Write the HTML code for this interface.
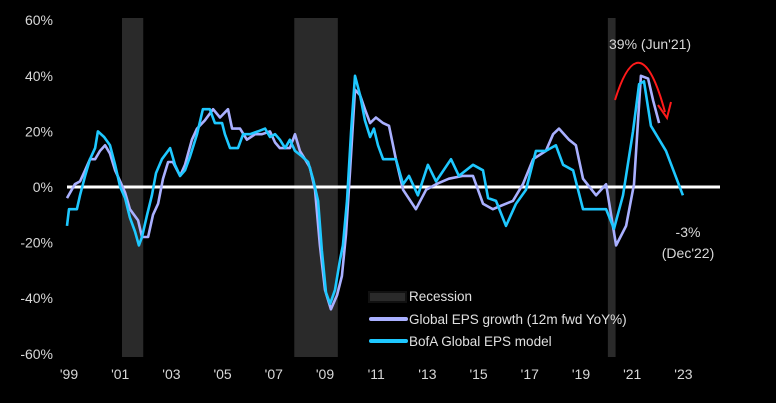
<!DOCTYPE html>
<html><head><meta charset="utf-8"><style>
html,body{margin:0;padding:0;background:#000;}
svg{display:block;font-family:"Liberation Sans",sans-serif;}
</style></head><body>
<svg id="chart" width="776" height="403"></svg>
<script>
const yTicks=[60,40,20,0,-20,-40,-60];
const xTickYears=[1999,2001,2003,2005,2007,2009,2011,2013,2015,2017,2019,2021,2023];
const xTickLabels=["'99","'01","'03","'05","'07","'09","'11","'13","'15","'17","'19","'21","'23"];
const recessionStart=[2001.07,2007.8,2020.05];
const recessionEnd=[2001.9,2009.5,2020.35];
const epsDates=[1998.92,1999.23,1999.43,1999.63,1999.82,2000.02,2000.21,2000.41,2000.6,2000.8,2001.0,2001.19,2001.38,2001.7,2001.85,2002.09,2002.28,2002.48,2002.67,2002.87,2003.06,2003.34,2003.53,2003.8,2004.0,2004.31,2004.63,2004.9,2005.21,2005.37,2005.68,2005.95,2006.27,2006.54,2006.85,2007.05,2007.24,2007.63,2007.83,2008.02,2008.22,2008.41,2008.61,2008.8,2009.0,2009.23,2009.47,2009.66,2009.82,2009.98,2010.17,2010.37,2010.56,2010.76,2010.99,2011.27,2011.5,2011.77,2012.05,2012.55,2012.95,2013.34,2013.84,2014.39,2014.78,2015.17,2015.56,2015.8,2016.34,2016.73,2017.13,2017.63,2017.91,2018.14,2018.53,2018.8,2019.08,2019.59,2019.98,2020.37,2020.76,2021.07,2021.34,2021.62,2021.82,2022.05];
const epsValues=[-4,1,2,6,10,10,13,15,12,6,2,-2,-8,-12,-18,-18,-10,-6,3,9,9,4,8,17,21,24,28,25,28,21,21,17,19,19,20,16,14,14,19,13,10,7,-1,-21,-37,-44,-39,-32,-17,6,35,33,28,23,25,23,22,10,-1,-8,-1,1,3,4,4,-6,-8,-7,-5,1,10,13,19,21,17,15,3,-3,1,-21,-14,1,40,39,31,23];
const modelDates=[1998.92,1999.0,1999.31,1999.43,1999.63,1999.82,2000.02,2000.13,2000.37,2000.6,2000.8,2001.0,2001.19,2001.38,2001.58,2001.73,2001.85,2002.05,2002.24,2002.4,2002.63,2002.95,2003.14,2003.34,2003.53,2003.73,2004.0,2004.23,2004.5,2004.7,2004.98,2005.09,2005.29,2005.6,2005.8,2006.07,2006.38,2006.66,2006.85,2007.05,2007.24,2007.44,2007.63,2007.83,2008.1,2008.34,2008.53,2008.73,2008.88,2009.04,2009.2,2009.39,2009.59,2009.7,2009.86,2010.02,2010.17,2010.37,2010.56,2010.76,2010.91,2011.07,2011.27,2011.46,2011.77,2012.05,2012.28,2012.63,2013.02,2013.34,2013.92,2014.23,2014.78,2015.17,2015.37,2015.68,2016.07,2016.46,2016.85,2017.24,2017.63,2018.02,2018.3,2018.69,2019.08,2019.59,2019.98,2020.29,2020.64,2021.03,2021.27,2021.46,2021.73,2022.32,2022.98];
const modelValues=[-14,-8,-8,-3,4,10,14,20,18,15,8,0,-4,-11,-16,-21,-18,-10,-3,5,10,14,8,4,6,11,19,28,28,23,23,19,14,14,19,19,20,21,18,19,17,14,17,13,11,9,3,-5,-23,-38,-42,-37,-26,-21,-5,20,40,33,24,18,21,15,10,10,10,1,4,-3,8,2,10,4,8,6,-4,-5,-14,-6,-1,13,13,15,8,6,-8,-8,-8,-15,-3,20,37,38,22,13,-3];

const NS="http://www.w3.org/2000/svg";
const svg=document.getElementById('chart');
const X=yr=>69+(yr-1999)*25.6;
const Y=v=>187-v*2.78;
function mk(tag,attrs,parent){const e=document.createElementNS(NS,tag);for(const k in attrs)e.setAttribute(k,attrs[k]);(parent||svg).appendChild(e);return e;}

recessionStart.forEach((s,i)=>{
  const r=mk('rect',{x:X(s),y:18,width:X(recessionEnd[i])-X(s),height:339,fill:'#2a2a2a'});
  
  
});
const zl=mk('line',{x1:67,x2:720,y1:Y(0),y2:Y(0),stroke:'#fff','stroke-width':3});



yTicks.forEach(t=>{
  const e=mk('text',{x:53,y:Y(t)+5,'text-anchor':'end','font-size':14,fill:'#d8d8d8'});
  e.textContent=t+'%';
  
  
});
xTickYears.forEach((yr,i)=>{
  const e=mk('text',{x:X(yr),y:379,'text-anchor':'middle','font-size':14,fill:'#d8d8d8'});
  e.textContent=xTickLabels[i];
  
  
});
function line(d,v,color,name){
  const pts=d.map((t,i)=>X(t).toFixed(1)+','+Y(v[i]).toFixed(1)).join(' ');
  const p=mk('polyline',{points:pts,fill:'none',stroke:color,'stroke-width':2.6,'stroke-linejoin':'round'});
  
  
}
line(epsDates,epsValues,'#a9b0ff','global-eps-growth-line');
line(modelDates,modelValues,'#1ec8ff','bofa-eps-model-line');

const a1=mk('text',{x:609,y:49,'font-size':14,fill:'#d8d8d8'});a1.textContent="39% (Jun'21)";


const a2=mk('text',{x:688,y:237,'text-anchor':'middle','font-size':14,fill:'#d8d8d8'});a2.textContent="-3%";


const a3=mk('text',{x:688,y:258,'text-anchor':'middle','font-size':14,fill:'#d8d8d8'});a3.textContent="(Dec'22)";


const arr=mk('path',{d:'M615,100 Q640,20 665,112',fill:'none',stroke:'#ff1a1a','stroke-width':2});


const ah=mk('path',{d:'M658,105 L667,118 L671,102',fill:'none',stroke:'#ff1a1a','stroke-width':2});



const lg=mk('g',{});


const ls=mk('rect',{x:369,y:292,width:37,height:10,fill:'#2a2a2a',stroke:'#111','stroke-width':2},lg);


[['Recession',null,301],['Global EPS growth (12m fwd YoY%)','#a9b0ff',324],['BofA Global EPS model','#1ec8ff',346]].forEach(([t,c,y])=>{
  if(c){const l=mk('line',{x1:371,x2:406,y1:y-5,y2:y-5,stroke:c,'stroke-width':4,'stroke-linecap':'round'},lg);
    
    }
  const e=mk('text',{x:409,y:y,'font-size':13.5,fill:'#e0e0e0'},lg);e.textContent=t;
  
  
});
</script>
</body></html>
